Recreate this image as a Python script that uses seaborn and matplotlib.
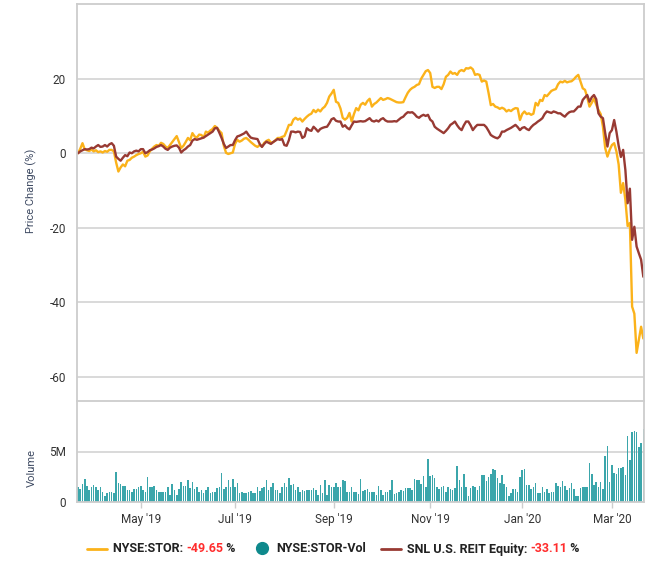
import numpy as np
import pandas as pd
import matplotlib
matplotlib.use("Agg")
import matplotlib.pyplot as plt
import seaborn as sns
from matplotlib.lines import Line2D

# ---------------- data ----------------
start_date = "2019-03-21"
end_date = "2020-03-20"
market_holidays = ["2019-04-19", "2019-05-27", "2019-07-04", "2019-09-02", "2019-11-28",
                   "2019-12-25", "2020-01-01", "2020-01-20", "2020-02-17"]

tick_months = ["2019-05", "2019-07", "2019-09", "2019-11", "2020-01", "2020-03"]
tick_labels = ["May '19", "Jul '19", "Sep '19", "Nov '19", "Jan '20", "Mar '20"]

stor_pct = [
    0.0, 1.2, 2.7, 1.0, 0.8, 0.6, 1.0, 0.5, 0.8, 0.3,
    0.5, 0.2, 0.6, 0.4, 0.9, 0.9, 0.5, -2.5, -4.9, -3.8,
    -3.0, -3.5, -2.0, -1.8, -1.2, -0.9, -0.5, -0.2, 0.0, 0.4,
    -0.9, -0.6, 0.5, 1.2, 1.8, 2.2, 2.0, 2.8, 2.5, 1.8,
    1.4, 2.2, 3.0, 3.8, 4.6, 3.0, 1.4, 2.0, 3.0, 4.1,
    3.5, 5.4, 4.5, 4.2, 5.0, 4.9, 4.2, 5.8, 5.5, 6.1,
    6.5, 7.3, 6.8, 6.0, 5.4, 2.0, 0.1, -0.2, 0.0, 0.2,
    2.5, 3.6, 3.1, 3.4, 3.9, 4.1, 3.6, 3.0, 2.5, 2.0,
    1.7, 2.2, 1.8, 2.8, 3.3, 3.6, 2.8, 3.0, 3.5, 4.1,
    4.1, 4.4, 4.6, 6.0, 7.6, 7.6, 9.0, 9.5, 9.0, 9.3,
    8.5, 9.2, 9.8, 10.3, 10.6, 11.6, 11.0, 11.7, 11.2, 12.0,
    12.5, 13.5, 15.2, 16.0, 17.0, 13.8, 13.5, 12.0, 9.5, 9.0,
    9.5, 10.8, 8.5, 10.5, 12.1, 11.5, 13.0, 13.5, 13.0, 14.0,
    14.6, 12.5, 13.2, 13.6, 14.2, 14.8, 14.3, 14.5, 14.8, 14.6,
    14.3, 14.0, 13.7, 13.6, 13.6, 13.7, 15.0, 16.2, 17.0, 17.5,
    17.8, 18.3, 18.5, 20.0, 21.0, 22.0, 22.3, 21.5, 17.8, 17.5,
    17.8, 17.8, 17.2, 18.5, 20.5, 21.0, 21.9, 21.3, 21.5, 21.0,
    22.0, 22.3, 22.0, 22.8, 22.7, 23.0, 22.5, 21.0, 21.2, 21.0,
    19.2, 19.5, 19.2, 16.2, 12.9, 13.2, 12.5, 12.3, 11.9, 12.2,
    11.9, 11.2, 11.6, 11.3, 11.8, 12.1, 12.0, 8.9, 10.5, 11.2,
    10.5, 10.7, 10.3, 10.6, 13.5, 12.8, 14.3, 14.0, 15.6, 15.3,
    16.0, 16.7, 17.0, 17.2, 18.5, 19.2, 19.0, 19.4, 19.0, 19.2,
    19.3, 19.8, 20.5, 21.0, 19.2, 17.4, 17.0, 15.0, 12.5, 13.5,
    14.7, 13.0, 11.6, 10.5, 7.1, 1.4, -0.9, 0.9, 2.2, 2.7,
    0.5, -3.0, -10.6, -8.0, -12.5, -19.5, -18.7, -41.1, -43.0, -53.5,
    -50.0, -46.5, -49.65,
]

reit_pct = [
    0.0, 0.5, 0.8, 1.1, 1.0, 1.1, 1.5, 1.3, 1.8, 2.2,
    1.7, 1.8, 2.2, 1.8, 2.4, 2.7, 2.0, -0.9, -1.5, -2.0,
    -1.2, -0.5, -0.8, 0.2, 0.0, 0.5, 0.7, 0.5, 1.1, 1.1,
    0.0, 0.3, 0.8, 1.0, 1.3, 1.7, 1.9, 2.2, 1.8, 1.2,
    0.9, 1.5, 1.8, 2.0, 2.1, 1.5, 0.2, 0.8, 1.2, 1.8,
    2.2, 3.4, 3.8, 3.6, 3.8, 4.0, 4.2, 4.6, 5.0, 5.4,
    5.8, 6.7, 6.8, 5.5, 4.1, 2.5, 1.4, 1.8, 2.2, 2.2,
    3.5, 4.5, 4.7, 5.0, 5.3, 5.8, 4.9, 4.2, 4.0, 3.9,
    3.8, 2.5, 1.7, 2.5, 3.1, 2.8, 2.5, 3.0, 3.4, 3.8,
    3.6, 3.8, 2.2, 2.0, 3.5, 5.8, 5.8, 5.6, 5.8, 5.7,
    4.1, 4.5, 6.7, 6.2, 6.0, 7.1, 6.5, 5.8, 6.5, 6.8,
    7.0, 7.1, 8.0, 9.1, 9.4, 8.7, 8.5, 8.5, 7.1, 7.5,
    6.8, 6.4, 7.5, 8.5, 8.4, 8.5, 8.6, 8.5, 8.6, 9.0,
    9.4, 8.7, 8.5, 8.8, 8.5, 9.1, 9.4, 8.8, 8.5, 8.5,
    8.5, 8.6, 8.5, 9.0, 9.5, 9.8, 10.5, 11.0, 10.9, 11.0,
    10.5, 9.8, 9.5, 10.0, 10.3, 10.0, 10.3, 9.0, 8.5, 7.1,
    6.6, 6.2, 5.8, 5.4, 6.0, 6.7, 7.6, 8.0, 8.5, 7.5,
    6.7, 6.2, 7.5, 8.5, 8.5, 7.5, 6.2, 7.0, 7.6, 7.6,
    7.6, 7.6, 7.0, 6.0, 4.9, 4.5, 4.2, 4.0, 4.5, 5.8,
    5.8, 6.2, 6.5, 6.8, 7.2, 7.6, 7.0, 6.2, 6.8, 7.0,
    6.5, 6.2, 7.0, 7.6, 8.0, 8.5, 8.9, 9.4, 10.5, 11.2,
    11.0, 10.8, 11.2, 11.0, 10.7, 10.7, 10.2, 9.8, 10.5, 11.0,
    11.2, 11.2, 11.8, 12.5, 12.5, 14.3, 15.0, 15.6, 13.8, 15.0,
    15.6, 14.5, 10.7, 9.8, 9.4, 5.4, 1.8, 5.4, 6.2, 8.9,
    5.8, 2.0, -1.0, 0.9, -4.5, -13.4, -9.5, -23.2, -19.7, -25.0,
    -26.8, -28.5, -33.11,
]

stor_volume_m = [
    1.53, 1.29, 1.80, 2.31, 1.63, 1.19, 1.46, 1.73, 1.46, 1.19,
    1.46, 1.02, 0.61, 0.85, 1.02, 0.95, 0.85, 2.93, 1.87, 1.80,
    1.56, 1.63, 1.19, 1.19, 0.95, 1.29, 1.29, 1.46, 1.63, 1.19,
    1.02, 2.48, 1.53, 1.53, 1.63, 1.19, 1.02, 1.02, 1.02, 1.02,
    1.53, 0.71, 1.80, 1.19, 0.71, 1.29, 1.97, 1.56, 1.56, 2.14,
    1.36, 1.97, 1.29, 1.53, 1.02, 1.19, 0.85, 1.19, 1.53, 0.85,
    1.02, 1.02, 1.36, 1.53, 2.89, 1.29, 1.53, 2.14, 1.46, 2.31,
    1.53, 1.87, 0.85, 0.95, 0.85, 0.85, 0.95, 1.05, 0.85, 0.85,
    1.46, 1.05, 1.36, 1.53, 2.21, 1.19, 1.53, 1.87, 1.19, 1.19,
    0.85, 1.46, 1.87, 1.53, 2.41, 1.70, 1.80, 1.19, 1.46, 1.02,
    1.19, 1.05, 1.19, 1.19, 1.19, 1.36, 1.19, 0.71, 1.73, 0.85,
    2.21, 0.71, 1.73, 1.53, 1.46, 1.87, 1.46,
    1.46, 2.21, 2.07, 1.02, 1.02, 1.46, 0.95, 1.02, 0.78, 2.31,
    1.05, 1.19, 1.29, 0.95, 0.95, 0.95, 0.71, 1.63, 1.19, 0.71,
    0.95, 0.95, 1.19, 2.14, 0.78, 0.85, 0.95, 1.19, 1.05, 1.36,
    1.36, 1.36, 1.19, 2.31, 2.21, 2.21, 1.80, 2.55, 1.53, 4.25,
    2.55, 2.65, 2.41, 1.53, 1.29, 1.53, 1.63, 1.02, 1.53, 1.29,
    1.19, 1.36, 3.57, 2.14, 1.46, 2.76, 1.46, 0.61, 1.36, 1.63,
    1.46, 1.19, 1.63, 2.65, 2.65, 2.04, 2.48, 2.82, 3.23, 3.16,
    2.41, 1.87, 2.65, 1.80, 1.46, 0.61, 0.85, 1.29, 1.29, 1.02,
    2.48, 3.16, 3.23, 1.73, 1.73, 1.29, 1.53, 1.87, 0.85, 0.85,
    1.46, 1.02, 1.29, 0.85, 0.95, 1.02, 1.87, 1.63, 1.46, 2.07,
    1.63, 1.19, 1.36, 1.87, 1.29, 0.61, 0.61, 1.36, 1.53, 1.53,
    1.53, 3.91, 2.82, 1.73, 1.97, 1.53, 1.97, 1.29, 4.52, 5.54,
    1.97, 3.67, 2.89, 2.76, 3.33, 3.33, 3.44, 2.65, 6.56, 4.18,
    6.90, 7.07, 6.90, 5.48, 5.88, 7.24,
]

stor_label = "NYSE:STOR"
stor_change = "-49.65"
vol_label = "NYSE:STOR-Vol"
reit_label = "SNL U.S. REIT Equity"
reit_change = "-33.11"

# ---------------- build frame ----------------
dates = pd.bdate_range(start_date, end_date)
dates = dates[~dates.isin(pd.to_datetime(market_holidays))]
n = min(len(dates), len(stor_pct), len(reit_pct), len(stor_volume_m))
df = pd.DataFrame({
    "idx": np.arange(n),
    "date": dates[:n],
    "stor": stor_pct[:n],
    "reit": reit_pct[:n],
    "vol": np.array(stor_volume_m[:n]) * 1e6,
})
ym = df["date"].dt.strftime("%Y-%m")
tick_pos = [int(df.loc[ym == m, "idx"].min()) for m in tick_months]

# ---------------- style ----------------
sns.set_theme(style="white")
plt.rcParams["font.family"] = ["Roboto", "DejaVu Sans"]

ORANGE = "#FBB21A"
BROWN = "#983A33"
TEAL = "#3BA6AB"
GRID = "#D3D3D3"
SPINE = "#CDCDCD"
TICK_TXT = "#333333"
LABEL_TXT = "#3F4B63"

W, H = 652, 562
fig = plt.figure(figsize=(W / 100, H / 100), dpi=100)
left, right = 77, 644
ax1 = fig.add_axes([left / W, 1 - 401 / H, (right - left) / W, (401 - 4) / H])
ax2 = fig.add_axes([left / W, 1 - 502 / H, (right - left) / W, (502 - 401) / H])

# lines
sns.lineplot(data=df, x="idx", y="stor", color=ORANGE, lw=1.7, ax=ax1)
sns.lineplot(data=df, x="idx", y="reit", color=BROWN, lw=1.7, ax=ax1)

# bars
sns.barplot(data=df, x="idx", y="vol", native_scale=True, color=TEAL, width=0.7,
            saturation=1, errorbar=None, linewidth=0, ax=ax2)

xlim = (-0.45, n - 1 + 0.3)
for ax in (ax1, ax2):
    ax.set_xlim(*xlim)
    for s in ax.spines.values():
        s.set_color(SPINE)
        s.set_linewidth(1.3)
    ax.set_xlabel("")

# top panel
ax1.set_ylim(-66.4, 40)
ax1.set_yticks([20, 0, -20, -40, -60])
ax1.set_yticklabels(["20", "0", "-20", "-40", "-60"])
ax1.yaxis.grid(True, color=GRID, lw=1.2)
ax1.set_axisbelow(True)
ax1.tick_params(axis="y", length=0, pad=8, labelsize=8.5, labelcolor=TICK_TXT)
ax1.set_xticks([])
ax1.spines["bottom"].set_visible(False)
ax1.set_ylabel("Price Change (%)", color=LABEL_TXT, fontsize=8)
ax1.yaxis.set_label_coords(-0.07, 0.53)

# volume panel
ax2.set_ylim(0, 10e6)
ax2.set_yticks([0, 5e6])
ax2.set_yticklabels(["0", "5M"])
ax2.yaxis.grid(True, color=GRID, lw=1.2)
ax2.set_axisbelow(True)
ax2.tick_params(axis="y", length=0, pad=8, labelsize=8.5, labelcolor=TICK_TXT)
ax2.set_xticks(tick_pos)
ax2.set_xticklabels(tick_labels)
ax2.tick_params(axis="x", bottom=True, length=4, width=1, color=SPINE, pad=4,
                labelsize=8.5, labelcolor=TICK_TXT)
ax2.set_ylabel("Volume", color=LABEL_TXT, fontsize=8)
ax2.yaxis.set_label_coords(-0.07, 0.34)

# ---------------- legend ----------------
renderer = fig.canvas.get_renderer()
LEG_Y = 549


def chain(x, parts):
    for s, c in parts:
        t = fig.text(x / W, 1 - LEG_Y / H, s, color=c, fontsize=9, fontweight="bold",
                     va="center", ha="left")
        bb = t.get_window_extent(renderer)
        x = bb.x1
    return x


fig.add_artist(Line2D([87 / W, 107 / W], [1 - LEG_Y / H] * 2, color=ORANGE, lw=2,
                      transform=fig.transFigure))
chain(113, [(stor_label + ": ", "#222222"), (stor_change, "#FF2D2D"), (" %", "#222222")])

fig.add_artist(Line2D([262 / W], [1 - (LEG_Y - 1) / H], marker="o", ms=8.5, color="#0E898C",
                      lw=0, transform=fig.transFigure))
chain(276, [(vol_label, "#222222")])

fig.add_artist(Line2D([381 / W, 401 / W], [1 - LEG_Y / H] * 2, color=BROWN, lw=2,
                      transform=fig.transFigure))
chain(407, [(reit_label + ": ", "#222222"), (reit_change, "#FF2D2D"), (" %", "#222222")])

fig.savefig("out.png", dpi=100)
